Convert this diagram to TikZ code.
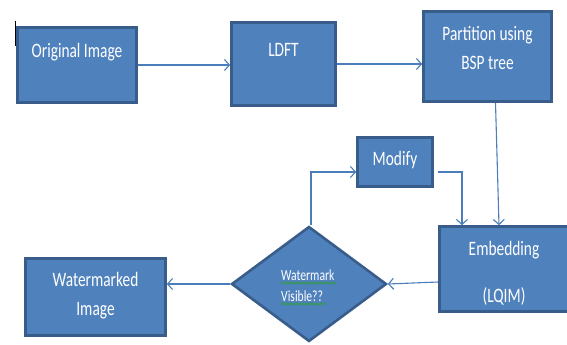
\documentclass[tikz,border=0pt]{standalone}
\usepackage{fontspec}
\setmainfont{Carlito}[FakeStretch=0.75]
\usetikzlibrary{arrows.meta,shapes.geometric,decorations.pathmorphing}
\definecolor{boxfill}{HTML}{4F81BD}
\definecolor{boxline}{HTML}{385D8A}
\definecolor{flowline}{HTML}{4A7EBB}
\definecolor{spellgreen}{HTML}{2E9E3A}
\tikzset{
  blockbox/.style={draw=boxline, fill=boxfill, line width=2.6pt, inner sep=0pt},
  blocktext/.style={text=white, align=center, inner sep=0pt, anchor=base,
    font=\fontsize{20.5}{29}\selectfont},
  flow/.style={draw=flowline, line width=1.1pt,
    -{Straight Barb[length=5pt,width=11pt,line width=1.1pt]}},
  squiggle/.style={draw=spellgreen, line width=0.7pt, decorate,
    decoration={snake, amplitude=1pt, segment length=3pt}}
}
\begin{document}
\begin{tikzpicture}[x=1pt,y=-1pt]
  \useasboundingbox (0,0) rectangle (567,345);
  % boxes
  \node[blockbox, minimum width=119pt, minimum height=75pt] (orig) at (77,65) {};
  \node[blockbox, minimum width=104pt, minimum height=83pt] (ldft) at (283.5,64) {};
  \node[blockbox, minimum width=128pt, minimum height=90pt] (part) at (487.5,56.5) {};
  \node[blockbox, minimum width=75pt, minimum height=49pt] (modify) at (395,162) {};
  \node[blockbox, minimum width=129pt, minimum height=85pt] (embed) at (504,269) {};
  \node[blockbox, minimum width=140pt, minimum height=77pt] (wm) at (95.5,297) {};
  \node[blockbox, diamond, minimum width=155pt, minimum height=115pt] (dec) at (309,284) {};
  % labels (base = last line)
  \node[blocktext] (origtxt) at (77,57.5) {Original Image};
  \node[blocktext] (ldfttxt) at (283.5,56.5) {LDFT};
  \node[blocktext] (parttxt) at (487.5,69.3) {Partition using\\BSP tree};
  \node[blocktext] (modifytxt) at (395,165) {Modify};
  \node[blocktext] (embedtxt) at (504,302.7) {Embedding\\[18.7pt](LQIM)};
  \node[blocktext] (wmtxt) at (95.5,315.7) {Watermarked\\Image};
  \node[blocktext, align=left, anchor=base west, font=\fontsize{15.5}{21}\selectfont]
    (dectxt) at (281,301) {Watermark\\Visible??};
  \draw[squiggle] (281,283) -- (336,283);
  \draw[squiggle] (281,304) -- (326,304);
  % cursor
  \draw[black, line width=1pt] (15.5,21) -- (15.5,46);
  % connectors
  \draw[flow] (orig.east) -- (ldft.west |- orig.east);
  \draw[flow] (ldft.east) -- (part.west |- ldft.east);
  \draw[flow] ([xshift=8pt]part.south) -- ([xshift=-5pt]embed.north);
  \draw[flow] ([xshift=4pt,yshift=-10pt]modify.east) -| ([xshift=-42pt]embed.north);
  \draw[flow] ([xshift=2pt]dec.north) |- ([yshift=-10pt]modify.west);
  \draw[flow] ([yshift=-13pt]embed.west) -- (dec.east);
  \draw[flow] (dec.west) -- (wm.east |- dec.west);
\end{tikzpicture}
\end{document}
